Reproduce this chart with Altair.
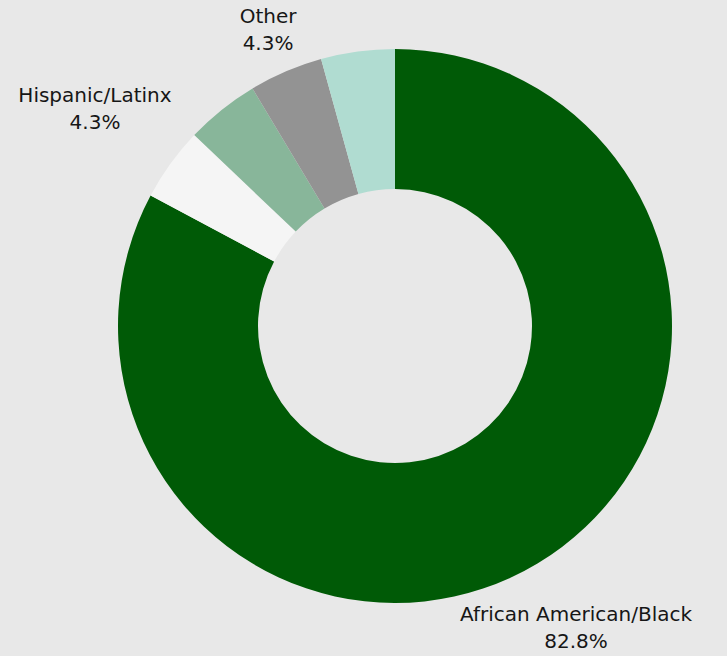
import altair as alt
import pandas as pd

categories = ["African American/Black", "Hispanic/Latinx", "Asian", "Other", "Multiracial"]
values = [82.8, 4.3, 4.3, 4.3, 4.3]
colors = ["#005a06", "#f5f5f5", "#88b69a", "#939393", "#b0dcd1"]
order = [0, 1, 2, 3, 4]

df = pd.DataFrame({"category": categories, "value": values, "order": order})
df["label"] = df["category"] + "\n" + df["value"].map(lambda v: f"{v:.1f}%")

CX, CY = 395, 326

base = alt.Chart(df).encode(
    theta=alt.Theta("value:Q", stack=True),
    order=alt.Order("order:Q"),
)

arc = base.mark_arc(outerRadius=277, innerRadius=137, stroke=None).encode(
    color=alt.Color("category:N", scale=alt.Scale(domain=categories, range=colors), legend=None),
    x=alt.value(CX),
    y=alt.value(CY),
)

def label_layer(name, r):
    return base.mark_text(
        radius=r, align="center", baseline="middle", lineBreak="\n", dy=-13,
        fontSize=20, font="DejaVu Sans", lineHeight=27, color="#161616",
    ).encode(
        text=alt.condition(f"datum.category === '{name}'", "label:N", alt.value("")),
        x=alt.value(CX),
        y=alt.value(CY),
    )

chart = alt.layer(
    arc,
    label_layer("African American/Black", 352),
    label_layer("Hispanic/Latinx", 370),
    label_layer("Other", 322),
).properties(
    width=727, height=656,
    autosize=alt.AutoSizeParams(type="none"),
    padding=0,
    background="#e8e8e8",
).configure_view(stroke=None)

chart.save("out.html", embed_options={"renderer": "svg", "actions": False})
